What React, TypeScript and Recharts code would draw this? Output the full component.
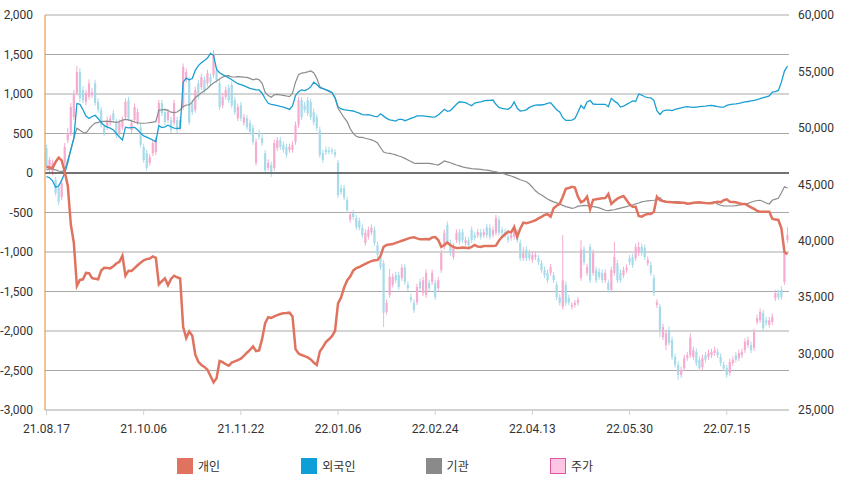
import React from 'react';
import { ComposedChart, Line, Bar, XAxis, YAxis, CartesianGrid, ReferenceLine } from 'recharts';

// trading days (categories)
const tradingDays: Array<[string, number[]]> = [
  ['21.08', [17, 18, 19, 20, 23, 24, 25, 26, 27, 30, 31]],
  ['21.09', [1, 2, 3, 6, 7, 8, 9, 10, 13, 14, 15, 16, 17, 23, 24, 27, 28, 29, 30]],
  ['21.10', [1, 5, 6, 7, 8, 12, 13, 14, 15, 18, 19, 20, 21, 22, 25, 26, 27, 28, 29]],
  ['21.11', [1, 2, 3, 4, 5, 8, 9, 10, 11, 12, 15, 16, 17, 18, 19, 22, 23, 24, 25, 26, 29, 30]],
  ['21.12', [1, 2, 3, 6, 7, 8, 9, 10, 13, 14, 15, 16, 17, 20, 21, 22, 23, 24, 27, 28, 29, 30]],
  ['22.01', [3, 4, 5, 6, 7, 10, 11, 12, 13, 14, 17, 18, 19, 20, 21, 24, 25, 26, 27, 28]],
  ['22.02', [3, 4, 7, 8, 9, 10, 11, 14, 15, 16, 17, 18, 21, 22, 23, 24, 25, 28]],
  ['22.03', [2, 3, 4, 7, 8, 10, 11, 14, 15, 16, 17, 18, 21, 22, 23, 24, 25, 28, 29, 30, 31]],
  ['22.04', [1, 4, 5, 6, 7, 8, 11, 12, 13, 14, 15, 18, 19, 20, 21, 22, 25, 26, 27, 28, 29]],
  ['22.05', [2, 3, 4, 6, 9, 10, 11, 12, 13, 16, 17, 18, 19, 20, 23, 24, 25, 26, 27, 30, 31]],
  ['22.06', [2, 3, 7, 8, 9, 10, 13, 14, 15, 16, 17, 20, 21, 22, 23, 24, 27, 28, 29, 30]],
  ['22.07', [1, 4, 5, 6, 7, 8, 11, 12, 13, 14, 15, 18, 19, 20, 21, 22, 25, 26, 27, 28, 29]],
  ['22.08', [1, 2, 3, 4, 5, 8, 9, 10, 11, 12]],
];
const dates: string[] = tradingDays.flatMap(([m, ds]) => ds.map((d) => `${m}.${String(d).padStart(2, '0')}`));

// 개인 (individual)
const individual = [
  80, 70, 63, 140, 195, 160, 16, -160, -650, -886,
  -1430, -1354, -1346, -1265, -1268, -1330, -1340, -1346, -1235, -1200,
  -1203, -1207, -1180, -1145, -1125, -1047, -1300, -1237, -1240, -1205,
  -1168, -1135, -1105, -1090, -1082, -1055, -1075, -1410, -1370, -1333,
  -1420, -1340, -1300, -1320, -1335, -1950, -2090, -2005, -2060, -2300,
  -2390, -2430, -2455, -2490, -2570, -2649, -2599, -2380, -2395, -2420,
  -2440, -2400, -2385, -2370, -2350, -2315, -2275, -2240, -2195, -2255,
  -2245, -2100, -1900, -1825, -1835, -1815, -1798, -1785, -1775, -1772,
  -1768, -1815, -2230, -2285, -2304, -2318, -2335, -2360, -2400, -2430,
  -2260, -2205, -2140, -2105, -2065, -2000, -1650, -1575, -1450, -1360,
  -1310, -1235, -1205, -1190, -1170, -1150, -1130, -1115, -1105, -1101,
  -1050, -935, -911, -905, -900, -885, -872, -858, -845, -830,
  -818, -815, -828, -840, -838, -835, -840, -815, -810, -848,
  -935, -912, -880, -915, -935, -950, -948, -943, -945, -952,
  -935, -912, -932, -935, -925, -924, -924, -924, -920, -855,
  -810, -775, -743, -752, -685, -806, -705, -629, -637, -625,
  -612, -598, -575, -555, -532, -522, -553, -445, -414, -390,
  -300, -200, -190, -175, -185, -300, -370, -351, -300, -460,
  -340, -333, -325, -320, -318, -266, -392, -355, -325, -305,
  -291, -342, -397, -426, -426, -544, -553, -530, -519, -519,
  -490, -300, -345, -355, -363, -367, -371, -373, -376, -376,
  -376, -388, -385, -376, -373, -371, -375, -380, -382, -384,
  -372, -363, -371, -345, -333, -363, -367, -371, -382, -392,
  -392, -414, -435, -455, -480, -489, -489, -489, -489, -580,
  -590, -595, -700, -1000, -1030,
];

// 외국인 (foreign)
const foreign = [
  -47, -60, -100, -180, -165, -90, 0, 130, 300, 439,
  880, 870, 800, 720, 690, 715, 730, 690, 640, 600,
  580, 568, 545, 500, 455, 418, 580, 572, 575, 578,
  545, 505, 470, 455, 435, 418, 397, 600, 575, 585,
  605, 585, 568, 565, 565, 1150, 1200, 1180, 1195, 1300,
  1360, 1395, 1425, 1455, 1515, 1490, 1310, 1270, 1245, 1225,
  1205, 1180, 1155, 1130, 1120, 1105, 1088, 1072, 1062, 1052,
  1051, 1010, 940, 882, 870, 861, 852, 843, 835, 820,
  805, 850, 980, 1030, 1051, 1042, 1060, 1090, 1150, 1120,
  1080, 1068, 1055, 1040, 1020, 955, 839, 810, 802, 795,
  790, 785, 770, 758, 740, 736, 740, 728, 718, 713,
  750, 720, 692, 672, 665, 658, 680, 680, 662, 675,
  692, 705, 722, 722, 722, 718, 713, 708, 710, 735,
  770, 806, 780, 790, 830, 870, 902, 897, 890, 870,
  852, 885, 895, 900, 912, 918, 920, 924, 870, 830,
  819, 812, 806, 835, 900, 819, 785, 790, 800, 830,
  848, 858, 861, 861, 870, 882, 890, 845, 800, 772,
  700, 665, 665, 670, 690, 770, 855, 815, 900, 920,
  873, 870, 869, 869, 869, 839, 945, 910, 885, 835,
  845, 868, 890, 913, 905, 1000, 987, 965, 955, 950,
  920, 790, 740, 785, 797, 795, 790, 805, 815, 825,
  835, 839, 835, 831, 835, 839, 843, 847, 852, 856,
  848, 839, 835, 833, 855, 865, 872, 876, 882, 890,
  900, 905, 912, 920, 930, 942, 955, 965, 975, 1025,
  1029, 1045, 1150, 1290, 1354,
];

// 기관 (institution)
const institution = [
  38, 55, 50, 40, 25, 18, 38, 165, 290, 440,
  566, 540, 515, 505, 555, 600, 632, 640, 650, 653,
  655, 652, 648, 640, 650, 670, 679, 673, 660, 645,
  635, 630, 630, 633, 637, 643, 650, 797, 800, 805,
  790, 770, 765, 772, 800, 840, 861, 861, 900, 955,
  985, 1015, 1040, 1070, 1110, 1140, 1165, 1190, 1215, 1230,
  1232, 1215, 1215, 1220, 1217, 1213, 1210, 1198, 1180, 1190,
  1180, 1135, 1020, 980, 958, 990, 995, 988, 983, 975,
  966, 1009, 1150, 1245, 1265, 1270, 1280, 1291, 1270, 1199,
  1093, 1070, 1050, 1033, 1015, 950, 819, 760, 700, 650,
  560, 502, 465, 451, 451, 440, 430, 420, 405, 380,
  320, 265, 253, 249, 240, 229, 215, 203, 185, 165,
  145, 125, 122, 122, 122, 122, 122, 116, 108, 101,
  125, 152, 140, 130, 115, 101, 90, 78, 68, 62,
  56, 51, 48, 45, 40, 37, 30, 22, 16, 6,
  -3, -15, -27, -38, -52, -68, -85, -98, -110, -140,
  -180, -225, -255, -278, -305, -330, -350, -365, -378, -392,
  -410, -425, -435, -447, -440, -420, -415, -410, -412, -420,
  -426, -432, -442, -455, -472, -477, -470, -465, -455, -445,
  -435, -426, -415, -405, -390, -380, -365, -358, -352, -348,
  -345, -340, -310, -360, -363, -363, -363, -363, -363, -370,
  -380, -384, -380, -378, -376, -378, -381, -384, -378, -370,
  -363, -395, -408, -415, -418, -418, -418, -413, -407, -400,
  -395, -385, -370, -358, -348, -345, -360, -380, -392, -345,
  -330, -320, -250, -175, -190,
];

// 주가 (price) OHLC
const priceOpen = [
  48200, 46250, 46100, 45400, 44750, 43850, 46900, 48900, 49550, 50950,
  53100, 54950, 53350, 52300, 52750, 52900, 53950, 52300, 51600, 50050,
  50050, 50450, 51300, 50500, 49550, 50050, 50950, 52450, 49800, 50700,
  50500, 50050, 48300, 47750, 46900, 47750, 47850, 50450, 52200, 51400,
  50700, 50700, 50450, 50700, 50000, 51850, 54250, 54250, 52200, 51600,
  53950, 53600, 54250, 53950, 54500, 54700, 55100, 53950, 52000, 52750,
  53550, 53800, 52450, 50850, 52000, 50450, 50850, 50450, 50000, 46900,
  49550, 49100, 47750, 46450, 46700, 46450, 48200, 48900, 48500, 48300,
  48050, 48050, 48750, 50250, 52450, 52000, 52450, 52300, 51400, 50950,
  49800, 47750, 48050, 48000, 48050, 47850, 46900, 44650, 44650, 43600,
  41850, 42450, 42000, 41750, 41150, 39800, 40350, 40750, 40950, 39600,
  38550, 38000, 33700, 35200, 36100, 36950, 36950, 36700, 37650, 36100,
  35000, 34500, 34550, 36350, 35350, 35200, 36250, 36350, 36250, 35800,
  37400, 39450, 41400, 39800, 38550, 40050, 40750, 40750, 39800, 40050,
  40950, 40500, 40500, 40750, 40500, 41200, 41150, 40500, 40700, 41850,
  40950, 40750, 40350, 40250, 40350, 40700, 39800, 38450, 39200, 38900,
  38300, 38550, 38450, 38000, 37400, 37150, 37150, 36950, 36100, 35000,
  34150, 36100, 34900, 34150, 34300, 34500, 36700, 39200, 37150, 39450,
  37150, 37400, 37250, 37150, 36500, 36250, 35650, 37150, 38000, 37150,
  36950, 37400, 38450, 38550, 38450, 38900, 39450, 39350, 38000, 37850,
  36700, 34300, 34150, 31450, 30750, 32100, 31200, 29700, 29000, 28100,
  28700, 29600, 29850, 29700, 30150, 29450, 28800, 29850, 29700, 29850,
  30050, 30150, 29700, 29000, 28700, 28300, 29150, 29850, 29600, 29850,
  30300, 30750, 30750, 30500, 32800, 32950, 33600, 32950, 32550, 32800,
  34900, 35350, 35650, 36350, 40050,
];
const priceClose = [
  46550, 47150, 46900, 44250, 43450, 45100, 48300, 49550, 51850, 52900,
  54950, 52650, 52450, 53100, 53950, 53150, 52200, 51600, 50250, 49550,
  50700, 50850, 50700, 49350, 50450, 50700, 52300, 50850, 50450, 51850,
  51400, 48500, 47150, 46450, 47400, 48650, 48900, 52200, 51300, 50500,
  51400, 49800, 52200, 49800, 50700, 55400, 54950, 50500, 51400, 53350,
  52750, 54500, 53350, 54850, 54050, 56450, 54250, 51850, 52750, 53350,
  52450, 52000, 51400, 51850, 50850, 50950, 50050, 49650, 48750, 48750,
  49200, 48650, 46250, 46900, 46000, 48650, 48900, 48300, 48050, 47600,
  48300, 48500, 50250, 52450, 50950, 51600, 51300, 50950, 50500, 50000,
  47600, 47150, 47850, 47850, 47900, 47600, 44050, 44300, 43850, 42700,
  42300, 42100, 41200, 41150, 40500, 40700, 40950, 41150, 39800, 38750,
  37650, 33600, 34500, 36800, 36800, 36500, 35900, 37600, 36350, 35800,
  34750, 33850, 35900, 35800, 36500, 37150, 35800, 37150, 35000, 36500,
  38900, 40700, 39900, 38900, 39450, 40700, 39900, 40050, 40050, 39600,
  40050, 40250, 40750, 40350, 40750, 40500, 40350, 40950, 42000, 40700,
  40700, 40500, 40050, 40500, 41200, 40050, 38450, 38900, 38450, 38450,
  38750, 38750, 38100, 37400, 36950, 36500, 37650, 36500, 35000, 34500,
  36500, 34500, 34550, 34300, 34500, 34750, 39200, 38100, 37650, 36500,
  38900, 36500, 36800, 36500, 37150, 35650, 37400, 38550, 36500, 36500,
  37400, 37600, 38100, 37850, 39450, 39450, 38900, 38550, 38300, 37150,
  35350, 34550, 32100, 32350, 31800, 30950, 29700, 29000, 28100, 28550,
  29600, 29850, 31400, 30300, 29150, 28700, 29600, 29450, 30050, 30150,
  30300, 29850, 29150, 28700, 28100, 29250, 29450, 29450, 30050, 30150,
  31050, 31200, 30300, 31900, 33150, 33700, 32250, 32700, 32950, 33250,
  35350, 35000, 35000, 38900, 40500,
];
const priceHigh = [
  48500, 47400, 47200, 45650, 45000, 45400, 48650, 50000, 52200, 53350,
  55500, 55300, 53700, 53400, 54300, 53500, 54250, 52600, 51850, 50350,
  51000, 51150, 51600, 50800, 50750, 51000, 52600, 52750, 50750, 52150,
  51700, 50350, 48600, 48050, 47700, 48950, 49200, 52500, 52500, 51700,
  51700, 51000, 52500, 51000, 51000, 55700, 55250, 54500, 52500, 53650,
  54250, 54800, 54550, 55150, 54800, 56900, 55400, 54250, 53050, 53650,
  53850, 54100, 52750, 52150, 52300, 51250, 51150, 50750, 50300, 49050,
  49850, 49400, 48050, 47200, 47000, 48950, 49200, 49200, 48800, 48600,
  48600, 48800, 50550, 52750, 52750, 52300, 52750, 52600, 51700, 51250,
  50100, 48050, 48350, 48300, 48250, 48100, 47150, 44950, 44950, 43900,
  42600, 42750, 42300, 42050, 41450, 41000, 41250, 41450, 41250, 39900,
  38850, 38300, 34800, 37500, 37100, 37250, 37250, 37900, 37950, 36400,
  35300, 34800, 36200, 36650, 36800, 37450, 36550, 37450, 36550, 36800,
  39200, 41000, 41700, 40100, 39750, 41000, 41050, 41050, 40350, 40350,
  41250, 40800, 41050, 41050, 41050, 41500, 41450, 41250, 42300, 42150,
  41250, 41050, 40650, 40800, 41500, 41000, 40100, 39450, 39500, 39200,
  39050, 39050, 38750, 38300, 37700, 37450, 37950, 37250, 36400, 35300,
  40500, 36400, 35200, 34550, 34750, 35000, 40050, 39500, 37950, 39750,
  39200, 37700, 37550, 37450, 37450, 36550, 37700, 39900, 38300, 37450,
  37700, 37900, 38750, 38850, 39750, 39900, 39750, 39650, 38600, 38150,
  37000, 34800, 34400, 32650, 32100, 32400, 31500, 30000, 29300, 28850,
  29900, 30150, 31800, 30600, 30450, 29750, 29900, 30150, 30350, 30450,
  30600, 30450, 30000, 29300, 29000, 29550, 29750, 30150, 30350, 30450,
  31350, 31500, 31050, 32200, 33450, 34000, 33900, 33250, 33250, 33550,
  35650, 35650, 35950, 39200, 41200,
];
const priceLow = [
  46300, 46000, 45800, 44000, 43150, 43600, 46650, 48650, 49300, 50700,
  52900, 52300, 52200, 52000, 52500, 52650, 51950, 51350, 50000, 49300,
  49800, 50200, 50450, 49100, 49300, 49800, 50700, 50600, 49550, 50450,
  50250, 48250, 46900, 46200, 46650, 47500, 47600, 50200, 51050, 50250,
  50450, 49550, 50200, 49550, 49750, 51600, 54000, 50250, 51150, 51350,
  52500, 53350, 53100, 53700, 53800, 54450, 54000, 51600, 51750, 52500,
  52200, 51750, 51150, 50600, 50600, 50200, 49800, 49400, 48500, 46650,
  48950, 48400, 46000, 46200, 45650, 46200, 47950, 48050, 47800, 47350,
  47800, 47800, 48500, 50000, 50700, 51350, 51050, 50700, 50250, 49750,
  47350, 46900, 47600, 47650, 47650, 47350, 43800, 44050, 43600, 42450,
  41600, 41850, 40950, 40900, 40250, 39550, 40100, 40500, 39550, 38500,
  37400, 32350, 33450, 34950, 35850, 36250, 35650, 36450, 36100, 35550,
  34500, 33600, 34300, 35550, 35100, 34950, 35550, 36100, 34750, 35550,
  37150, 39200, 39650, 38650, 38300, 39800, 39650, 39800, 39550, 39350,
  39800, 40000, 40250, 40100, 40250, 40250, 40100, 40250, 40450, 40450,
  40450, 40250, 39800, 40000, 40100, 39800, 38200, 38200, 38200, 38200,
  38050, 38300, 37850, 37150, 36700, 36250, 36900, 36250, 34750, 34250,
  33900, 34250, 34300, 33900, 34050, 34250, 36450, 37850, 36900, 36250,
  36900, 36250, 36550, 36250, 36250, 35400, 35400, 36900, 36250, 36250,
  36700, 37150, 37850, 37600, 38200, 38650, 38650, 38300, 37750, 36900,
  35100, 34050, 31450, 31200, 30300, 30700, 29450, 28750, 27650, 27850,
  28450, 29350, 29600, 29450, 28900, 28450, 28550, 29200, 29450, 29600,
  29800, 29600, 28900, 28450, 27850, 28050, 28900, 29200, 29350, 29600,
  30050, 30500, 30050, 30250, 32550, 32700, 32000, 32450, 32300, 32550,
  34650, 34750, 34750, 36100, 39800,
];

const leftTicks = [-3000, -2500, -2000, -1500, -1000, -500, 0, 500, 1000, 1500, 2000];
const rightTicks = [25000, 30000, 35000, 40000, 45000, 50000, 55000, 60000];

const data = dates.map((date, i) => ({
  date,
  individual: individual[i],
  foreign: foreign[i],
  institution: institution[i],
  open: priceOpen[i],
  close: priceClose[i],
  high: priceHigh[i],
  low: priceLow[i],
}));

const UP = '#f6abd0';
const DOWN = '#a7dbea';

const Candle = (props: any) => {
  const { x, y, width, height, payload } = props;
  if (!payload || x == null || y == null) return null;
  const { open, close, high, low } = payload;
  const top0 = Math.min(y, y + height);
  const h = Math.abs(height);
  const span = high - low || 1;
  const yOf = (v: number) => top0 + ((high - v) / span) * h;
  const cx = x + width / 2;
  const up = close >= open;
  const color = up ? UP : DOWN;
  const bt = yOf(Math.max(open, close));
  const bb = yOf(Math.min(open, close));
  const bw = 2.2;
  return (
    <g>
      <line x1={cx} x2={cx} y1={top0} y2={top0 + h} stroke={color} strokeWidth={1} />
      <rect x={cx - bw / 2} y={bt} width={bw} height={Math.max(1, bb - bt)} fill={color} />
    </g>
  );
};

const fmt = (v: number) => v.toLocaleString('en-US');

const legendItems = [
  { label: '개인', fill: '#e0735f', border: '#e0735f' },
  { label: '외국인', fill: '#0f9fd8', border: '#0f9fd8' },
  { label: '기관', fill: '#8a8a8a', border: '#8a8a8a' },
  { label: '주가', fill: '#ffc6e4', border: '#e0559e' },
];

const FONT = 'Roboto, "Noto Sans CJK KR", "Noto Sans", sans-serif';

export default function App() {
  return (
    <div
      style={{
        position: 'relative',
        width: 841,
        height: 480,
        fontFamily: FONT,
      }}
    >
      <style>{'html, body { margin: 0; padding: 0; }'}</style>
      <ComposedChart
        width={841}
        height={448}
        data={data}
        margin={{ top: 15, right: 0, bottom: 8, left: 0 }}
        barCategoryGap={0}
        style={{ fontFamily: FONT }}
      >
        <CartesianGrid yAxisId="left" vertical={false} stroke="#a9a9a9" />
        <XAxis
          dataKey="date"
          interval={31}
          height={30}
          tickMargin={9}
          tickSize={5}
          axisLine={{ stroke: '#cfcfcf' }}
          tickLine={{ stroke: '#cfcfcf' }}
          tick={{ fontSize: 12, fill: '#333', fontFamily: FONT }}
        />
        <YAxis
          yAxisId="left"
          domain={[-3000, 2000]}
          ticks={leftTicks}
          interval={0}
          width={45}
          tickFormatter={fmt}
          axisLine={{ stroke: '#e8892a' }}
          tickLine={false}
          tickMargin={6}
          tick={{ fontSize: 12, fill: '#333', fontFamily: FONT }}
          allowDataOverflow
        />
        <YAxis
          yAxisId="right"
          orientation="right"
          domain={[25000, 60000]}
          ticks={rightTicks}
          interval={0}
          width={52}
          tickFormatter={fmt}
          axisLine={false}
          tickLine={false}
          tickMargin={3}
          tick={{ fontSize: 12, fill: '#333', fontFamily: FONT }}
          allowDataOverflow
        />
        <ReferenceLine yAxisId="left" y={0} stroke="#111" strokeWidth={1} />
        <Bar
          yAxisId="right"
          dataKey={(d: any) => [d.low, d.high]}
          shape={(p: any) => <Candle {...p} />}
          isAnimationActive={false}
        />
        <Line yAxisId="left" type="linear" dataKey="institution" stroke="#8c8c8c" strokeWidth={1.2} dot={false} isAnimationActive={false} />
        <Line yAxisId="left" type="linear" dataKey="foreign" stroke="#1a9fd3" strokeWidth={1.3} dot={false} isAnimationActive={false} />
        <Line yAxisId="left" type="linear" dataKey="individual" stroke="#e0735f" strokeWidth={2.5} dot={false} isAnimationActive={false} />
      </ComposedChart>
      <div style={{ position: 'absolute', left: 177, top: 458, display: 'flex', fontSize: 12, color: '#333' }}>
        {legendItems.map((it) => (
          <div key={it.label} style={{ width: 124.3, display: 'flex', alignItems: 'center' }}>
            <span
              style={{
                display: 'inline-block',
                width: 14,
                height: 14,
                background: it.fill,
                border: `1px solid ${it.border}`,
                marginRight: 5,
              }}
            />
            <span style={{ lineHeight: '16px', fontFamily: '"Noto Sans CJK KR", sans-serif' }}>{it.label}</span>
          </div>
        ))}
      </div>
    </div>
  );
}
